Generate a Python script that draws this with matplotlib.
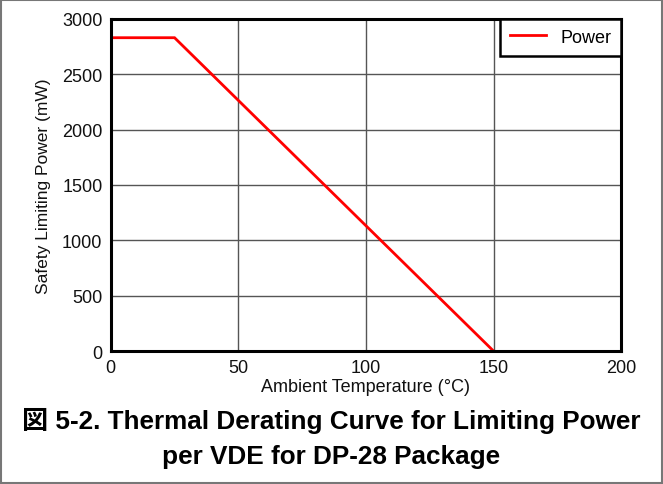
import matplotlib
matplotlib.use("Agg")
import matplotlib.pyplot as plt
from matplotlib.patches import Rectangle

# data
temp_c = [0, 25, 150]
power_mw = [2830, 2830, 0]
x_ticks = [0, 50, 100, 150, 200]
y_ticks = [0, 500, 1000, 1500, 2000, 2500, 3000]

plt.rcParams["font.family"] = ["Liberation Sans", "Noto Sans CJK JP", "DejaVu Sans"]

fig = plt.figure(figsize=(6.63, 4.85), dpi=100)
ax = fig.add_axes([0.167, 0.274, 0.770, 0.685])

ax.plot(temp_c, power_mw, color="red", lw=2, label="Power", solid_joinstyle="miter")

ax.set_xlim(0, 200)
ax.set_ylim(0, 3000)
ax.set_xticks(x_ticks)
ax.set_yticks(y_ticks)
ax.grid(True, color="#555555", lw=1)
ax.set_axisbelow(True)
for s in ax.spines.values():
    s.set_linewidth(2.2)
    s.set_color("black")
ax.tick_params(length=0, labelsize=13, pad=6, colors="#111111")

ax.set_xlabel("Ambient Temperature (°C)", fontsize=13, labelpad=1, color="#111111")
ax.set_ylabel("Safety Limiting Power (mW)", fontsize=12.5, labelpad=8, color="#111111")

leg = ax.legend(loc="upper right", fontsize=13, fancybox=False, framealpha=1,
                borderaxespad=0, handlelength=2.0, borderpad=0.55, handletextpad=0.8)
leg.get_frame().set_edgecolor("black")
leg.get_frame().set_linewidth(1.8)

fig.text(0.5, 0.132, "図 5-2. Thermal Derating Curve for Limiting Power",
         ha="center", va="center", fontsize=18.8, fontweight="bold")
fig.text(0.5, 0.058, "per VDE for DP-28 Package",
         ha="center", va="center", fontsize=18.8, fontweight="bold")

fig.patches.append(Rectangle((0.002, 0.003), 0.996, 0.994, transform=fig.transFigure,
                             fill=False, edgecolor="#777777", lw=1.5))

fig.savefig("out.png", dpi=100)
